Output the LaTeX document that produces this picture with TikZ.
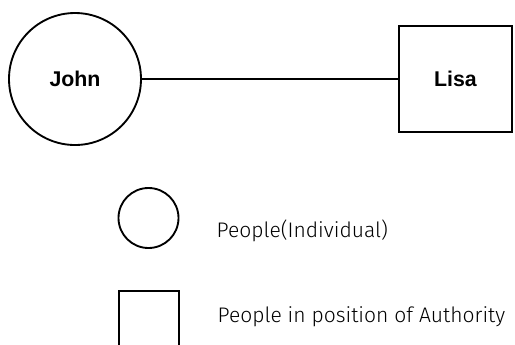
\documentclass[tikz,border=0pt]{standalone}
\usepackage{fontspec}
\setmainfont{Liberation Sans}
\newfontfamily\legendfont{Fira Sans Light}
\usepackage{tikz}

\tikzset{
  person/.style={draw, circle, line width=1.4pt, inner sep=0pt},
  authority/.style={draw, rectangle, line width=1.4pt, inner sep=0pt},
  nametext/.style={font=\bfseries\fontsize{16}{20}\selectfont},
  legendtext/.style={anchor=base west, font=\legendfont\fontsize{15.8}{19}\selectfont},
}

\begin{document}
\begin{tikzpicture}[x=0.75pt,y=-0.75pt]
      \useasboundingbox (0,0) rectangle (515,344);

      % the two people
      \node[person, minimum size=99pt, nametext] (john) at (75,79) {John};
      \node[authority, minimum width=84.75pt, minimum height=79.5pt, nametext] (lisa) at (455.5,79) {Lisa};
      \draw[line width=1.4pt] (john) -- (lisa);

      % legend
      \node[person, minimum size=45pt] (individual) at (148.5,218) {};
      \node[legendtext] (individuallabel) at (212,237) {People(Individual)};

      \node[authority, minimum size=45pt] (position) at (149,321) {};
      \node[legendtext] (positionlabel) at (213,322) {People in position of Authority};
    \end{tikzpicture}
\end{document}
